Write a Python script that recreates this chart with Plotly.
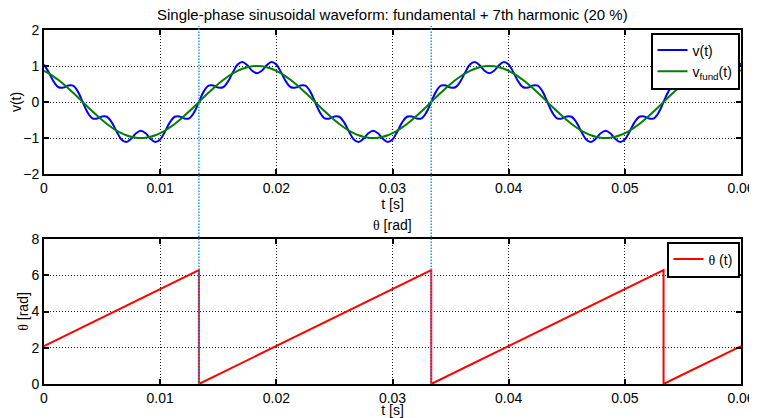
import numpy as np
import plotly.graph_objects as go
from plotly.subplots import make_subplots

# ---- data ----
T_START, T_END, N_SAMPLES = 0.0, 0.06, 145
t = np.linspace(T_START, T_END, N_SAMPLES)

v_period = [1.039, 0.819, 0.566, 0.410, 0.400, 0.459, 0.452, 0.289, 0.000, -0.289,
            -0.452, -0.459, -0.400, -0.410, -0.566, -0.819, -1.039, -1.109, -1.018, -0.870,
            -0.800, -0.870, -1.018, -1.109, -1.039, -0.819, -0.566, -0.410, -0.400, -0.459,
            -0.452, -0.289, 0.000, 0.289, 0.452, 0.459, 0.400, 0.410, 0.566, 0.819,
            1.039, 1.109, 1.018, 0.870, 0.800, 0.870, 1.018, 1.109]
v = v_period + v_period + v_period + [1.039]

fund_period = [0.866, 0.793, 0.707, 0.609, 0.500, 0.383, 0.259, 0.131, 0.000, -0.131,
               -0.259, -0.383, -0.500, -0.609, -0.707, -0.793, -0.866, -0.924, -0.966, -0.991,
               -1.000, -0.991, -0.966, -0.924, -0.866, -0.793, -0.707, -0.609, -0.500, -0.383,
               -0.259, -0.131, 0.000, 0.131, 0.259, 0.383, 0.500, 0.609, 0.707, 0.793,
               0.866, 0.924, 0.966, 0.991, 1.000, 0.991, 0.966, 0.924]
v_fund = fund_period + fund_period + fund_period + [0.866]

theta_t = [0.0, 0.013333, 0.013333, 0.033333, 0.033333, 0.053333, 0.053333, 0.06]
theta = [2.094, 6.283, 0.0, 6.283, 0.0, 6.283, 0.0, 2.094]

wrap_times = [0.013333, 0.033333]

x_ticks = [0, 0.01, 0.02, 0.03, 0.04, 0.05, 0.06]
x_tick_labels = ["0", "0.01", "0.02", "0.03", "0.04", "0.05", "0.06"]
y1_ticks = [-2, -1, 0, 1, 2]
y2_ticks = [0, 2, 4, 6, 8]

# ---- figure ----
FONT = "Liberation Sans, Arial, sans-serif"
OFF = 8                     # page body margin of the html page
W, H = 757 - OFF, 418 - OFF
ML, MR, MT, MB = 36, 16, 22, 34
FS = 14

fig = make_subplots(rows=2, cols=1, vertical_spacing=0.0)

fig.add_trace(go.Scatter(x=t, y=v, mode="lines", name="v(t)",
                         line=dict(color="#0000ff", width=2, shape="spline"),
                         legend="legend"), row=1, col=1)
fig.add_trace(go.Scatter(x=t, y=v_fund, mode="lines", name="v<sub>fund</sub>(t)",
                         line=dict(color="#008000", width=2, shape="spline"),
                         legend="legend"), row=1, col=1)
fig.add_trace(go.Scatter(x=theta_t, y=theta, mode="lines",
                         name='<span style="font-family:Liberation Serif">θ</span> (t)',
                         line=dict(color="#ff0000", width=2),
                         legend="legend2"), row=2, col=1)

axis_common = dict(
    showline=True, linecolor="black", linewidth=2, mirror="ticks",
    ticks="inside", ticklen=5, tickwidth=2, tickcolor="black",
    showgrid=True, gridcolor="#222222", gridwidth=1, griddash="1px,2px",
    zeroline=False, automargin=False,
    tickfont=dict(family=FONT, size=FS, color="black"),
    title_font=dict(family=FONT, size=FS, color="black"),
)

fig.update_xaxes(**axis_common, range=[0, 0.06], tickvals=x_ticks, ticktext=x_tick_labels,
                 title_text="t [s]", title_standoff=0)
fig.update_yaxes(**axis_common)
fig.update_yaxes(range=[-2, 2], tickvals=y1_ticks, title_text="v(t)", title_standoff=0,
                 row=1, col=1)
fig.update_yaxes(range=[0, 8], tickvals=y2_ticks,
                 title_text='<span style="font-family:Liberation Serif">θ</span> [rad]',
                 title_standoff=0, row=2, col=1)

plot_h = H - MT - MB
plot_w = W - ML - MR
top_lo = (H - MB - (174 - OFF)) / plot_h
bot_hi = (H - MB - (239 - OFF)) / plot_h
fig.update_layout(yaxis=dict(domain=[top_lo, 1.0]), yaxis2=dict(domain=[0.0, bot_hi]))

# vertical dotted markers at the wrap instants
y_top_paper = (H - MB - (26 - OFF)) / plot_h
for tw in wrap_times:
    fig.add_shape(type="line", xref="x2", yref="paper", x0=tw, x1=tw, y0=0, y1=y_top_paper,
                  line=dict(color="#1a96f0", width=1.5, dash="1.5px,1.5px"), layer="above")

# titles
fig.add_annotation(text="Single-phase sinusoidal waveform: fundamental + 7th harmonic (20 %)",
                   xref="paper", yref="paper", x=0.5, y=1.0, yshift=5, yanchor="bottom",
                   showarrow=False, font=dict(family=FONT, size=15, color="black"))
fig.add_annotation(text='<span style="font-family:Liberation Serif">θ</span> [rad]',
                   xref="paper", yref="paper", x=0.5, y=bot_hi, yshift=4, yanchor="bottom",
                   showarrow=False, font=dict(family=FONT, size=FS, color="black"))

fig.update_layout(
    width=W, height=H,
    margin=dict(l=ML, r=MR, t=MT, b=MB, autoexpand=False),
    paper_bgcolor="white", plot_bgcolor="white",
    font=dict(family=FONT, size=FS, color="black"),
    showlegend=True,
    legend=dict(x=(739.5 - OFF - ML) / plot_w, y=(H - MB - (32.5 - OFF)) / plot_h,
                xanchor="right", yanchor="top", bgcolor="white",
                bordercolor="black", borderwidth=2,
                font=dict(family=FONT, size=FS, color="black"),
                tracegroupgap=0, itemwidth=30),
    legend2=dict(x=(739.5 - OFF - ML) / plot_w, y=(H - MB - (241.5 - OFF)) / plot_h,
                 xanchor="right", yanchor="top", bgcolor="white",
                 bordercolor="black", borderwidth=2,
                 font=dict(family=FONT, size=FS, color="black"),
                 itemwidth=30),
)

fig.write_html("out.html")
